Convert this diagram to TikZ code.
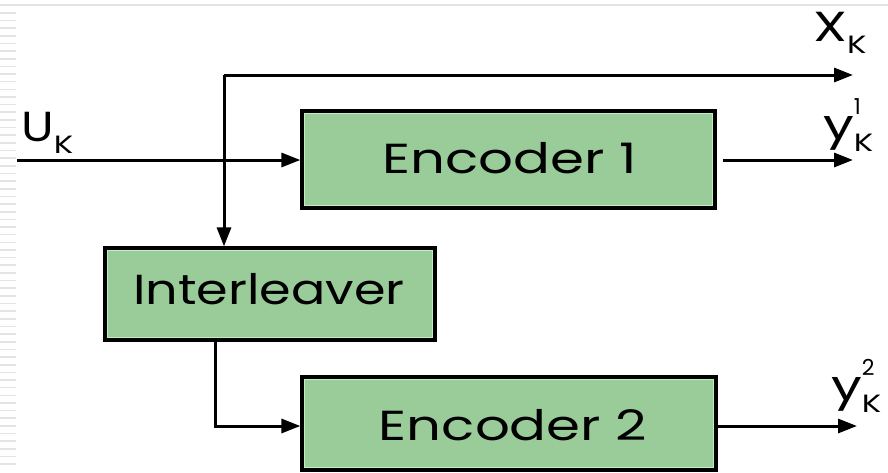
\documentclass[tikz,border=0pt]{standalone}
\usepackage{fontspec}
\setmainfont{Poppins}
\usetikzlibrary{arrows.meta}

\definecolor{boxfill}{RGB}{153,204,153}
\definecolor{boxlight}{RGB}{192,240,192}
\definecolor{rulegray}{RGB}{228,228,228}

\tikzset{
  wire/.style={line width=3pt, black, -{Triangle[length=19pt,width=14pt]}},
  blockbox/.style={draw=black, line width=3.2pt, fill=boxfill, inner sep=0pt},
  blocktext/.style={inner sep=0pt, font=\fontsize{42}{42}\selectfont},
  symlbl/.style={inner sep=0pt, anchor=base west, font=\fontsize{42}{42}\selectfont},
}
\newcommand{\wide}[2][1.3]{\scalebox{#1}[1]{#2}}
\newcommand{\subk}{\lower12pt\hbox{\fontsize{25}{25}\selectfont\wide{K}}}
\newcommand{\supn}[1]{\raise25pt\hbox{\fontsize{22}{22}\selectfont #1}}

\begin{document}
\begin{tikzpicture}[x=1pt,y=-1pt]
  \useasboundingbox (0,0) rectangle (888,472);

  % page decoration: top rule and left ruler ticks
  \fill[rulegray] (0,3.5) rectangle (888,6);
  \foreach \t in {0,...,59} {
    \fill[rulegray] (0,{12+7.65*\t}) rectangle (16,{13.6+7.65*\t});
  }

  % blocks
  \node[blockbox, minimum width=413pt, minimum height=97pt] (enc1) at (508.5,159.5) {};
  \node[blockbox, minimum width=414pt, minimum height=93pt] (enc2) at (509,423.5) {};
  \node[blockbox, minimum width=330pt, minimum height=92pt] (inter) at (270,294) {};

  % inner highlight of each block
  \foreach \b in {enc1,enc2,inter} {
    \draw[boxlight, line width=1.6pt]
      ([shift={(4pt,4pt)}]\b.south west) rectangle ([shift={(-4pt,-4pt)}]\b.north east);
  }
  \node[blocktext] (t1) at (510,158) {\wide{Encoder 1}};
  \node[blocktext] (t2) at (513,425) {\wide{Encoder 2}};
  \node[blocktext] (t3) at (269,289) {\wide[1.21]{Interleaver}};

  % free ends
  \coordinate (uin) at (17,160);
  \coordinate (tap) at (224,75);
  \coordinate (xout) at (853,75);
  \coordinate (y1out) at (853,160);
  \coordinate (y2out) at (857,426);

  % connectors
  \draw[wire] (uin) -- (uin -| enc1.west);
  \draw[wire] (tap) -- (xout);
  \draw[wire] (tap) -- (tap |- inter.north);
  \draw[wire] (enc1.east |- y1out) ++(6,0) -- (y1out);
  \draw[wire] (enc2.east |- y2out) -- (y2out);
  \draw[wire] ([xshift=-55pt]inter.south) -- ([xshift=-55pt]inter.south |- y2out) -- (y2out -| enc2.west);

  % labels
  \node[symlbl] (lu) at (21,141) {\wide[1.15]{U}\subk};
  \node[symlbl] (lx) at (813,41) {\wide{X}\subk};
  \node[symlbl] (ly1) at (823,139) {\wide{y}\rlap{\supn{1}}\subk};
  \node[symlbl] (ly2) at (831,400) {\wide{y}\rlap{\supn{2}}\subk};
\end{tikzpicture}
\end{document}
